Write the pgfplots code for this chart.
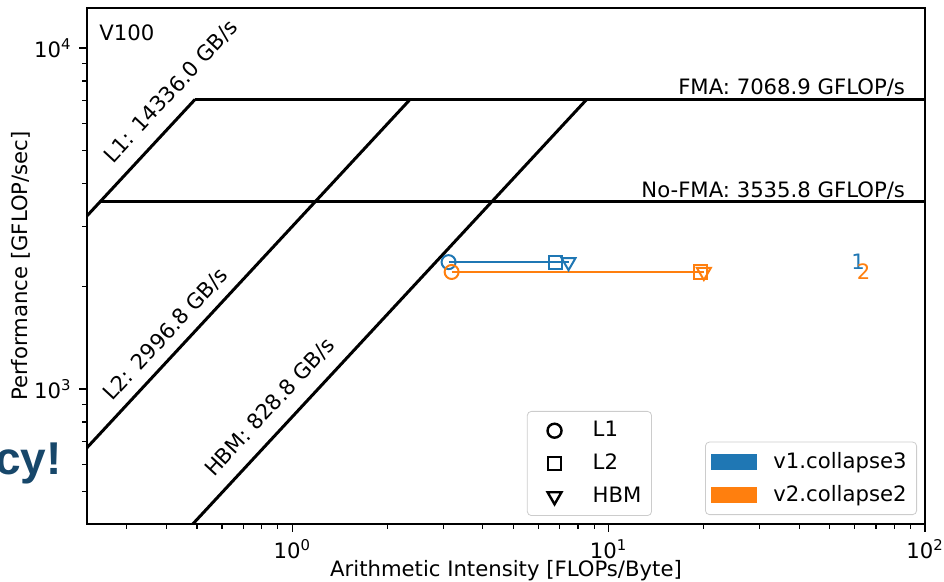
\documentclass[border=0pt]{standalone}
\usepackage{pgfplots}
\pgfplotsset{compat=1.18}
\usepackage{fontspec}
\setmainfont{DejaVu Sans}
\newfontfamily\slidefont{Liberation Sans}
\usetikzlibrary{calc}
\definecolor{c1}{HTML}{1F77B4}
\definecolor{c2}{HTML}{FF7F0E}
\definecolor{slide}{HTML}{17476A}
\begin{document}
\fontsize{10.6}{12.7}\selectfont
\begin{tikzpicture}
\begin{axis}[name=main, scale only axis, width=419pt, height=258pt,
  xmode=log, ymode=log, xmin=0.2245, xmax=100, ymin=402, ymax=13100,
  xtick={1,10,100}, xticklabels={10\textsuperscript{0},10\textsuperscript{1},10\textsuperscript{2}},
  ytick={1000,10000}, yticklabels={10\textsuperscript{3},10\textsuperscript{4}},
  minor xtick={0.3,0.4,0.5,0.6,0.7,0.8,0.9,2,3,4,5,6,7,8,9,20,30,40,50,60,70,80,90},
  minor ytick={500,600,700,800,900,2000,3000,4000,5000,6000,7000,8000,9000},
  tick align=outside, xtick pos=bottom, ytick pos=left,
  major tick length=4pt, minor tick length=2.3pt,
  every tick/.style={black, line width=0.6pt},
  axis line style={line width=0.8pt},
  xlabel={Arithmetic Intensity [FLOPs/Byte]}, ylabel={Performance [GFLOP/sec]},
  xlabel style={at={(axis description cs:0.5,0)}, anchor=center, yshift=-23.5pt},
  ylabel style={at={(axis description cs:-0.0788,0.5)}, anchor=center},
  legend style={at={(0.525,0.0155)}, anchor=south west, draw=black!20, rounded corners=2pt, row sep=3pt, inner sep=3pt},
  legend cell align=left,
  legend image code/.code={\path (0pt,0pt) (26.5pt,0pt); \draw[#1] plot coordinates {(10pt,0pt)};},
]
\addlegendimage{only marks, mark=o, mark size=3.5pt, line width=1.2pt, black}
\addlegendentry{L1}
\addlegendimage{only marks, mark=square, mark size=3.3pt, line width=1.2pt, black}
\addlegendentry{L2}
\addlegendimage{only marks, mark=triangle, mark options={rotate=180}, mark size=4pt, line width=1.2pt, black}
\addlegendentry{HBM}
% rooflines
\addplot[black, line width=1.5pt, forget plot] coordinates {(0.2,2867.2) (0.49309,7068.9)};
\addplot[black, line width=1.5pt, forget plot] coordinates {(0.2,599.36) (2.35882,7068.9)};
\addplot[black, line width=1.5pt, forget plot] coordinates {(0.4,331.52) (8.52908,7068.9)};
\addplot[black, line width=1.5pt, forget plot] coordinates {(0.49309,7068.9) (100,7068.9)};
\addplot[black, line width=1.5pt, forget plot] coordinates {(0.24664,3535.8) (100,3535.8)};
% data v1
\addplot[c1, line width=1pt, forget plot] coordinates {(3.12,2355) (6.80,2355) (7.47,2355)};
\addplot[c1, only marks, mark=o, mark size=3.5pt, line width=1pt, forget plot] coordinates {(3.12,2355)};
\addplot[c1, only marks, mark=square, mark size=3.3pt, line width=1pt, forget plot] coordinates {(6.80,2355)};
\addplot[c1, only marks, mark=triangle, mark options={rotate=180}, mark size=4pt, line width=1pt, forget plot] coordinates {(7.47,2355)};
% data v2
\addplot[c2, line width=1pt, forget plot] coordinates {(3.19,2204) (19.5,2204) (20.0,2204)};
\addplot[c2, only marks, mark=o, mark size=3.5pt, line width=1pt, forget plot] coordinates {(3.19,2204)};
\addplot[c2, only marks, mark=square, mark size=3.3pt, line width=1pt, forget plot] coordinates {(19.5,2204)};
\addplot[c2, only marks, mark=triangle, mark options={rotate=180}, mark size=4pt, line width=1pt, forget plot] coordinates {(20.0,2204)};
% labels
\node[anchor=north west, inner sep=0pt] at (axis description cs:0.0143,0.969) {V100};
\node[rotate=47.2, anchor=base west, inner sep=0pt] at (axis cs:0.2715,4557) {L1: 14336.0 GB/s};
\node[rotate=47.2, anchor=base west, inner sep=0pt] at (axis cs:0.270,915) {L2: 2996.8 GB/s};
\node[rotate=47.2, anchor=base west, inner sep=0pt] at (axis cs:0.565,548) {HBM: 828.8 GB/s};
\node[anchor=south east, inner sep=1pt] at (axis cs:88,7068.9) {FMA: 7068.9 GFLOP/s};
\node[anchor=south east, inner sep=1pt] at (axis cs:88,3535.8) {No-FMA: 3535.8 GFLOP/s};
\node[text=c1] at (axis cs:61.5,2355) {1};
\node[text=c2] at (axis cs:64,2204) {2};
\end{axis}
\begin{axis}[at={(main.south west)}, anchor=south west, scale only axis, width=419pt, height=258pt,
  hide axis, xmin=0, xmax=1, ymin=0, ymax=1,
  legend style={at={(0.7375,0.0174)}, anchor=south west, draw=black!20, rounded corners=2pt, row sep=3pt, inner sep=3pt},
  legend cell align=left,
  legend image code/.code={\path (0pt,0pt) (29pt,0pt); \fill[#1, sharp corners] (0pt,-4pt) rectangle (23pt,4pt);},
]
\addlegendimage{fill=c1, draw=none}
\addlegendentry{v1.collapse3}
\addlegendimage{fill=c2, draw=none}
\addlegendentry{v2.collapse2}
\end{axis}
\node[anchor=base east, font=\slidefont\bfseries\fontsize{23}{23}\selectfont, text=slide, inner sep=0pt] at ($(main.south west)+(-12.5pt,24.5pt)$) {cy!};
\pgfresetboundingbox
\useasboundingbox ($(main.south west)+(-43.5pt,-29pt)$) rectangle ($(main.north east)+(9.5pt,4pt)$);
\end{tikzpicture}
\end{document}
